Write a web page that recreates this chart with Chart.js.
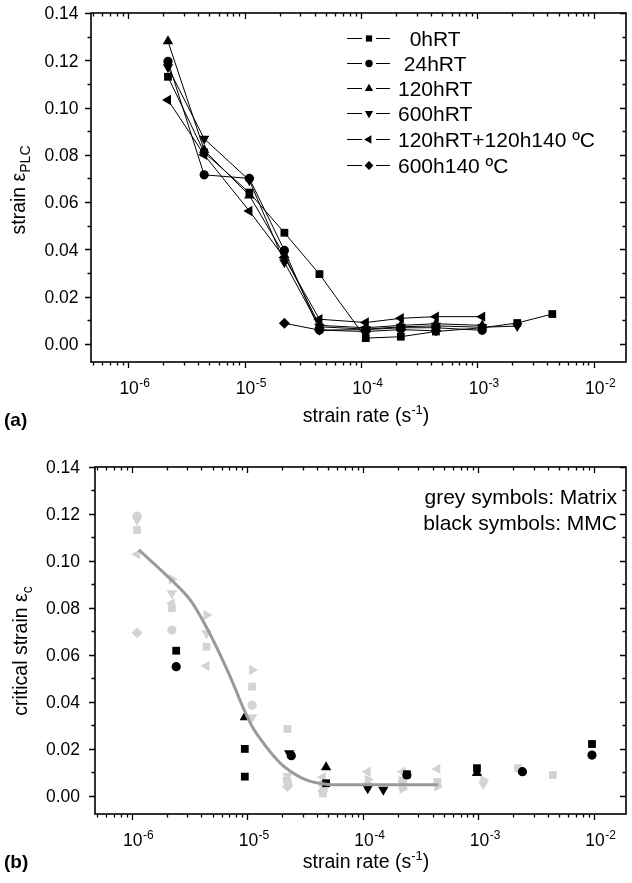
<!DOCTYPE html>
<html>
<head>
<meta charset="utf-8">
<script src="https://cdn.jsdelivr.net/npm/chart.js@4.4.0/dist/chart.umd.min.js"></script>
<style>
  body { margin: 0; background: #fff; width: 632px; height: 883px; overflow: hidden; position: relative; }
  canvas { position: absolute; left: 0; }
  #chartA { top: 0; }
  #chartB { top: 441px; }
</style>
</head>
<body>
<canvas id="chartA" width="632" height="441"></canvas>
<canvas id="chartB" width="632" height="442"></canvas>
<script>
// axis ranges and ticks
const RATE_MIN = 4.8e-7, RATE_MAX = 1.89e-2;
const STRAIN_MIN = -0.0077, STRAIN_MAX = 0.14;
const xDecades = [1e-6, 1e-5, 1e-4, 1e-3, 1e-2];
const xExponents = ['-6', '-5', '-4', '-3', '-2'];
const yTicks = [0, 0.02, 0.04, 0.06, 0.08, 0.10, 0.12, 0.14];
const yMinorTicks = [0.01, 0.03, 0.05, 0.07, 0.09, 0.11, 0.13];

// (a) strain eps_PLC vs strain rate
const rateA = [2.2e-6, 4.5e-6, 1.1e-5, 2.2e-5, 4.4e-5, 1.1e-4, 2.2e-4, 4.4e-4, 1.1e-3, 2.2e-3, 4.4e-3];
const plc0hRT = [0.113, 0.081, 0.064, 0.047, 0.0295, 0.0024, 0.003, 0.0052, 0.0068, 0.0088, 0.0126];
const plc24hRT = [0.1195, 0.0715, 0.070, 0.0395, 0.0058, 0.006, 0.0068, 0.0068, 0.0057];
const plc120hRT = [0.128, 0.082, 0.0628, 0.0375, 0.0078, 0.0068, 0.0078, 0.0085, 0.0078];
const plc600hRT = [0.117, 0.0868, 0.0692, 0.0345, 0.0072, 0.0062, 0.0072, 0.0076, 0.007, 0.0075];
const plc120hRT140 = [0.1032, 0.080, 0.0562, 0.0365, 0.0104, 0.009, 0.0108, 0.0115, 0.0115];
const plc600h140 = [null, null, null, 0.0087, 0.0058, 0.0052, 0.006, 0.0055];
const labelsA = ['  0hRT', ' 24hRT', '120hRT', '600hRT', '120hRT+120h140 \u00baC', '600h140 \u00baC'];

// (b) critical strain, grey = matrix, black = MMC
const gSquareRate = [1.11e-6, 2.22e-6, 4.43e-6, 1.1e-5, 2.22e-5, 4.5e-5, 1.1e-4, 2.2e-4, 4.4e-4, 2.2e-3, 4.4e-3];
const gSquare = [0.1132, 0.0799, 0.0635, 0.0465, 0.0285, 0.001, 0.004, 0.004, 0.006, 0.0118, 0.0089];
const gCircleRate = [1.11e-6, 2.22e-6, 1.1e-5, 2.22e-5, 4.5e-5, 2.2e-4];
const gCircle = [0.1191, 0.0706, 0.0386, 0.006, 0.005, 0.006];
const gDownRate = [1.11e-6, 2.22e-6, 4.43e-6, 1.1e-5, 2.22e-5, 4.5e-5, 2.2e-4, 1.1e-3];
const gDown = [0.1174, 0.0863, 0.0692, 0.0335, 0.0085, 0.004, 0.007, 0.005];
const gLeftRate = [1.11e-6, 2.22e-6, 4.43e-6, 2.22e-5, 4.5e-5, 1.1e-4, 2.2e-4, 4.4e-4];
const gLeft = [0.1029, 0.082, 0.0553, 0.0075, 0.008, 0.0103, 0.0103, 0.0115];
const gRightRate = [2.22e-6, 4.43e-6, 1.1e-5, 2.22e-5, 4.5e-5, 1.1e-4, 2.2e-4, 4.4e-4, 1.1e-3];
const gRight = [0.0922, 0.077, 0.0536, 0.005, 0.003, 0.007, 0.003, 0.004, 0.0068];
const gDiamondRate = [1.11e-6, 2.22e-5, 4.5e-5, 1.1e-4];
const gDiamond = [0.0695, 0.004, 0.002, 0.005];

const bSquareRate = [2.42e-6, 9.5e-6, 9.5e-6, 4.8e-5, 2.4e-4, 9.7e-4, 9.6e-3];
const bSquare = [0.0618, 0.020, 0.0082, 0.0054, 0.0092, 0.0118, 0.0221];
const bCircleRate = [2.42e-6, 2.4e-5, 2.4e-4, 2.4e-3, 9.6e-3];
const bCircle = [0.055, 0.0171, 0.0089, 0.0103, 0.0174];
const bUpRate = [9.5e-6, 4.8e-5, 9.7e-4];
const bUp = [0.0335, 0.0122, 0.0097];
const bDownRate = [2.3e-5, 1.1e-4, 1.5e-4];
const bDown = [0.0182, 0.0033, 0.0026];

const fitRate = [1.15e-6, 2.2e-6, 3.2e-6, 4.4e-6, 6.1e-6, 7.5e-6, 9.1e-6, 1.1e-5, 1.45e-5, 2.0e-5, 2.8e-5, 3.4e-5, 4.2e-5, 5.4e-5, 1e-4, 2e-4, 4.5e-4];
const fitStrain = [0.1047, 0.0919, 0.0834, 0.072, 0.0579, 0.048, 0.038, 0.0295, 0.021, 0.0132, 0.0082, 0.0064, 0.0054, 0.0048, 0.0047, 0.0047, 0.0047];

const notesB = ['grey symbols: Matrix', 'black symbols: MMC'];

const FONT = '"Liberation Sans", Arial, sans-serif';
const GREY = '#d3d3d3';

const SQ = { pointStyle: 'rect', pointRadius: 5.5, pointRotation: 0 };
const CI = { pointStyle: 'circle', pointRadius: 4.6, pointRotation: 0 };
const UP = { pointStyle: 'triangle', pointRadius: 6, pointRotation: 0 };
const DN = { pointStyle: 'triangle', pointRadius: 6, pointRotation: 180 };
const LF = { pointStyle: 'triangle', pointRadius: 6, pointRotation: 270 };
const RT = { pointStyle: 'triangle', pointRadius: 6, pointRotation: 90 };
const DM = { pointStyle: 'rectRot', pointRadius: 5.5, pointRotation: 0 };

function pts(xs, ys) {
  const out = [];
  ys.forEach((v, i) => { if (v != null) out.push({ x: xs[i], y: v }); });
  return out;
}

function lineSeries(ys, label, style) {
  return Object.assign({
    label: label, data: pts(rateA, ys), showLine: true,
    borderColor: '#000', backgroundColor: '#000', pointBackgroundColor: '#000',
    borderWidth: 1, pointBorderWidth: 0, pointHoverRadius: 0, tension: 0
  }, style);
}

function dotSeries(xs, ys, color, style) {
  return Object.assign({
    data: pts(xs, ys), showLine: false,
    backgroundColor: color, pointBackgroundColor: color, borderColor: color,
    pointBorderWidth: 0, pointHoverRadius: 0
  }, style);
}

// text with sub/superscript pieces, centred on cx
function richWidth(ctx, parts) {
  let w = 0;
  parts.forEach(p => { ctx.font = p.font; w += ctx.measureText(p.t).width; });
  return w;
}
function drawRich(ctx, parts, cx, baseY) {
  let x = cx - richWidth(ctx, parts) / 2;
  ctx.textAlign = 'left';
  parts.forEach(p => {
    ctx.font = p.font;
    ctx.fillText(p.t, x, baseY + (p.dy || 0));
    x += ctx.measureText(p.t).width;
  });
}

function axesPlugin(cfg) {
  return {
    id: 'axes',
    afterDatasetsDraw(chart) {
      const ctx = chart.ctx, a = chart.chartArea;
      const xs = chart.scales.x, ys = chart.scales.y;
      ctx.save();
      ctx.fillStyle = '#000';
      ctx.strokeStyle = '#000';
      ctx.lineWidth = 1.6;
      ctx.strokeRect(a.left, a.top, a.right - a.left, a.bottom - a.top);

      // tick marks
      ctx.lineWidth = 1.3;
      ctx.beginPath();
      for (let e = -7; e <= -1; e++) {
        for (let m = 1; m <= 9; m++) {
          const v = m * Math.pow(10, e);
          if (v < RATE_MIN || v > RATE_MAX) continue;
          const px = Math.round(xs.getPixelForValue(v)) + 0.5;
          const len = m === 1 ? 6 : 3.5;
          ctx.moveTo(px, a.bottom); ctx.lineTo(px, a.bottom + len);
          ctx.moveTo(px, a.top); ctx.lineTo(px, a.top + len);
        }
      }
      [[yTicks, 6], [yMinorTicks, 3.5]].forEach(([list, len]) => {
        list.forEach(v => {
          const py = Math.round(ys.getPixelForValue(v)) + 0.5;
          ctx.moveTo(a.left - len, py); ctx.lineTo(a.left, py);
          ctx.moveTo(a.right - len, py); ctx.lineTo(a.right, py);
        });
      });
      ctx.stroke();

      // y tick labels
      ctx.font = '17.5px ' + FONT;
      ctx.textAlign = 'right';
      yTicks.forEach(v => {
        ctx.fillText(v.toFixed(2), a.left - cfg.yLabelGap, ys.getPixelForValue(v) + 6.3);
      });

      // x tick labels 10^n
      xDecades.forEach((v, i) => {
        const px = xs.getPixelForValue(v) + 1;
        ctx.font = '17.5px ' + FONT;
        ctx.textAlign = 'center';
        ctx.fillText('10', px, a.bottom + 32);
        const w = ctx.measureText('10').width;
        ctx.font = '12px ' + FONT;
        ctx.textAlign = 'left';
        ctx.fillText(xExponents[i], px + w / 2 + 0.5, a.bottom + 25);
      });

      // x title
      drawRich(ctx, [
        { t: 'strain rate (s', font: '19.5px ' + FONT },
        { t: '-1', font: '13px ' + FONT, dy: -8 },
        { t: ')', font: '19.5px ' + FONT }
      ], cfg.xTitleX, cfg.xTitleY);

      // y title (rotated)
      ctx.save();
      ctx.translate(cfg.yTitleX, cfg.yTitleY);
      ctx.rotate(-Math.PI / 2);
      drawRich(ctx, [
        { t: cfg.yTitle, font: '19.5px ' + FONT },
        { t: cfg.ySub, font: '14px ' + FONT, dy: 5 }
      ], 0, 0);
      ctx.restore();

      // panel label
      ctx.font = 'bold 19px ' + FONT;
      ctx.textAlign = 'left';
      ctx.fillText(cfg.panel, 4, cfg.panelY);

      if (cfg.extra) cfg.extra(chart, ctx);
      ctx.restore();
    }
  };
}

function baseOptions(pad) {
  return {
    responsive: false,
    animation: false,
    layout: { padding: pad },
    plugins: { legend: { display: false }, tooltip: { enabled: false } },
    scales: {
      x: {
        type: 'logarithmic', min: RATE_MIN, max: RATE_MAX,
        grid: { display: false }, border: { display: false }, ticks: { display: false },
        afterFit: s => { s.height = 0; }
      },
      y: {
        type: 'linear', min: STRAIN_MIN, max: STRAIN_MAX,
        grid: { display: false }, border: { display: false }, ticks: { display: false },
        afterFit: s => { s.width = 0; }
      }
    }
  };
}

// legend of panel (a)
function legendA(chart, ctx) {
  const rowY = [38, 63, 88, 113, 139, 165];
  ctx.lineWidth = 1;
  ctx.strokeStyle = '#000';
  chart.data.datasets.forEach((ds, i) => {
    const y = rowY[i];
    ctx.beginPath();
    ctx.moveTo(347, y + 0.5); ctx.lineTo(362, y + 0.5);
    ctx.moveTo(376, y + 0.5); ctx.lineTo(390, y + 0.5);
    ctx.stroke();
    ctx.fillStyle = '#000';
    Chart.helpers.drawPoint(ctx, {
      pointStyle: ds.pointStyle, rotation: ds.pointRotation,
      radius: ds.pointRadius * 0.8, borderWidth: 0
    }, 369, y + 0.5);
    ctx.font = '21px ' + FONT;
    ctx.textAlign = 'left';
    ctx.fillText(ds.label, 398, y + 8);
  });
}

function notesForB(chart, ctx) {
  ctx.font = '21px ' + FONT;
  ctx.textAlign = 'right';
  ctx.fillText(notesB[0], 617, 63);
  ctx.fillText(notesB[1], 617, 89);
}

new Chart(document.getElementById('chartA'), {
  type: 'scatter',
  data: {
    datasets: [
      lineSeries(plc0hRT, labelsA[0], SQ),
      lineSeries(plc24hRT, labelsA[1], CI),
      lineSeries(plc120hRT, labelsA[2], UP),
      lineSeries(plc600hRT, labelsA[3], DN),
      lineSeries(plc120hRT140, labelsA[4], LF),
      lineSeries(plc600h140, labelsA[5], DM)
    ]
  },
  options: baseOptions({ left: 91, top: 13, right: 2, bottom: 79 }),
  plugins: [axesPlugin({
    yLabelGap: 12.5, xTitleX: 366, xTitleY: 422,
    yTitle: 'strain \u03b5', ySub: 'PLC', yTitleX: 25, yTitleY: 190,
    panel: '(a)', panelY: 426, extra: legendA
  })]
});

new Chart(document.getElementById('chartB'), {
  type: 'scatter',
  data: {
    datasets: [
      {
        data: pts(fitRate, fitStrain), showLine: true, pointRadius: 0, pointHoverRadius: 0,
        borderColor: '#9a9a9a', borderWidth: 3, cubicInterpolationMode: 'monotone'
      },
      dotSeries(bSquareRate, bSquare, '#000', SQ),
      dotSeries(bCircleRate, bCircle, '#000', CI),
      dotSeries(bUpRate, bUp, '#000', UP),
      dotSeries(bDownRate, bDown, '#000', DN),
      dotSeries(gSquareRate, gSquare, GREY, SQ),
      dotSeries(gCircleRate, gCircle, GREY, CI),
      dotSeries(gDownRate, gDown, GREY, DN),
      dotSeries(gLeftRate, gLeft, GREY, LF),
      dotSeries(gRightRate, gRight, GREY, RT),
      dotSeries(gDiamondRate, gDiamond, GREY, DM)
    ]
  },
  options: baseOptions({ left: 95, top: 26, right: 2, bottom: 69 }),
  plugins: [axesPlugin({
    yLabelGap: 15, xTitleX: 366, xTitleY: 427,
    yTitle: 'critical strain \u03b5', ySub: 'c', yTitleX: 27, yTitleY: 210,
    panel: '(b)', panelY: 427, extra: notesForB
  })]
});
</script>
</body>
</html>
